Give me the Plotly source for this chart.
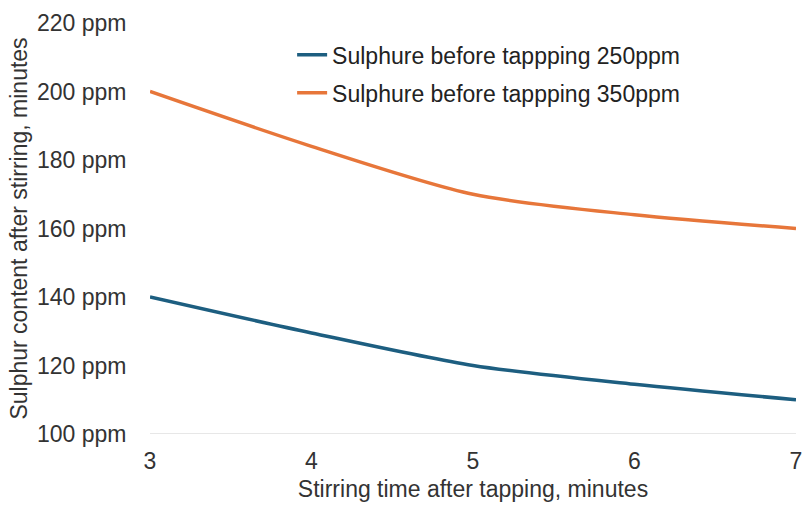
import plotly.graph_objects as go

# Stirring time (minutes) and resulting sulphur content (ppm)
stir_minutes = [3, 4, 5, 6, 7]
sulphur_250 = [140, 129.5, 120, 114.5, 110]
sulphur_350 = [200, 184, 170, 164, 160]
ppm_ticks = [100, 120, 140, 160, 180, 200, 220]

series_names = ["Sulphure before tappping 250ppm", "Sulphure before tappping 350ppm"]
series_colors = ["#1D5E80", "#E7763A"]

font_family = "Liberation Sans, Arial, sans-serif"
fs = 23

fig = go.Figure()
for i, (name, vals, col) in enumerate(zip(series_names, [sulphur_250, sulphur_350], series_colors)):
    fig.add_trace(go.Scatter(
        x=stir_minutes, y=vals, name=name, mode="lines",
        line=dict(color=col, width=3.5, shape="spline", smoothing=0.8),
        legendgroup=f"g{i}",
    ))

fig.update_layout(
    width=810, height=507,
    margin=dict(l=150, r=8, t=23, b=73),
    paper_bgcolor="white", plot_bgcolor="white",
    font=dict(family=font_family, size=fs, color="#333333"),
    showlegend=True,
    legend=dict(
        x=0.22, y=0.975, xanchor="left", yanchor="top",
        bgcolor="rgba(0,0,0,0)", tracegroupgap=5,
        font=dict(size=fs, color="#222222"),
    ),
    xaxis=dict(
        range=[3, 7], tickvals=stir_minutes, ticktext=[str(v) for v in stir_minutes],
        showgrid=False, zeroline=False, showline=False,
        ticks="outside", ticklen=6, tickcolor="rgba(0,0,0,0)",
        title=dict(text="Stirring time after tapping, minutes", standoff=8,
                   font=dict(size=fs, color="#333333")),
        tickfont=dict(size=fs, color="#333333"),
    ),
    yaxis=dict(
        range=[100, 220], tickvals=ppm_ticks,
        ticktext=[f"{v} ppm" for v in ppm_ticks],
        showgrid=False, zeroline=False, showline=False,
        ticks="outside", ticklen=18, tickcolor="rgba(0,0,0,0)",
        title=dict(text="Sulphur content after stirring, minutes", standoff=2,
                   font=dict(size=fs, color="#333333")),
        tickfont=dict(size=fs, color="#333333"),
    ),
)

# Baseline at 100 ppm
fig.add_shape(type="line", xref="x", yref="y", x0=3, x1=7, y0=100, y1=100,
              line=dict(color="#d0d0d0", width=1.2), layer="below")

fig.write_html("out.html")
